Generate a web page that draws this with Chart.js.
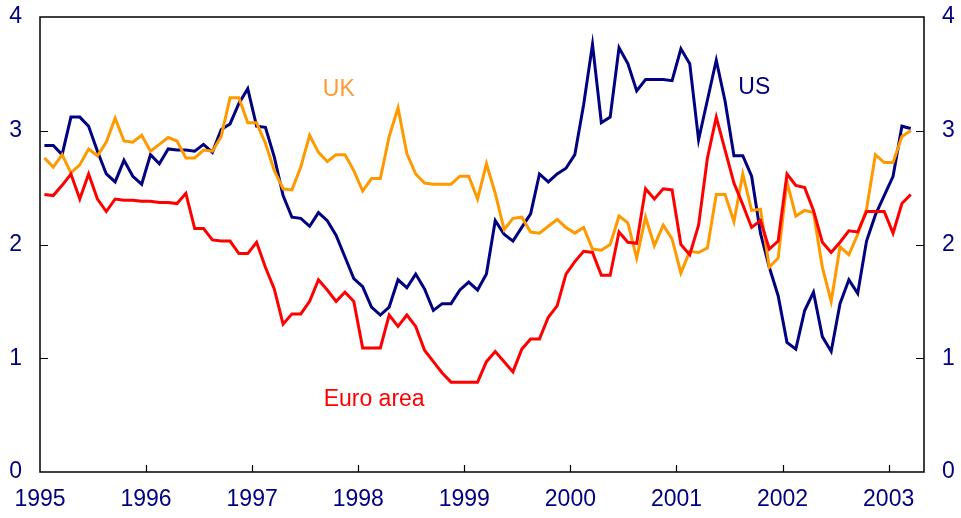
<!DOCTYPE html>
<html>
<head>
<meta charset="utf-8">
<script src="https://cdn.jsdelivr.net/npm/chart.js@4.4.1/dist/chart.umd.min.js"></script>
<style>
  html, body { margin: 0; padding: 0; background: #ffffff; }
  #wrap { width: 961px; height: 518px; }
</style>
</head>
<body>
<div id="wrap"><canvas id="c" width="961" height="518"></canvas></div>
<script>
// ---- Data (monthly, Jan 1995 – Mar 2003) ----
const startYear = 1995;
const yearTicks = ['1995','1996','1997','1998','1999','2000','2001','2002','2003'];

const usValues = [
  2.87,2.87,2.79,3.12,3.12,3.04,2.82,2.62,2.55,2.74,2.60,2.53,
  2.79,2.71,2.84,2.83,2.83,2.82,2.88,2.81,3.01,3.06,3.24,3.37,
  3.04,3.03,2.77,2.43,2.24,2.23,2.16,2.28,2.21,2.08,1.89,1.70,
  1.63,1.45,1.38,1.45,1.69,1.62,1.74,1.61,1.42,1.48,1.48,1.60,
  1.67,1.60,1.74,2.21,2.09,2.03,2.15,2.27,2.62,2.55,2.62,2.67,
  2.79,3.23,3.76,3.07,3.12,3.73,3.59,3.35,3.45,3.45,3.45,3.44,
  3.72,3.59,2.92,3.27,3.62,3.26,2.78,2.78,2.60,2.10,1.80,1.55,
  1.14,1.08,1.42,1.58,1.19,1.06,1.48,1.69,1.57,2.03,2.26,2.43,
  2.60,3.04,3.02
];

const ukValues = [
  2.76,2.68,2.79,2.63,2.70,2.84,2.78,2.90,3.11,2.91,2.90,2.96,
  2.82,2.88,2.94,2.91,2.76,2.76,2.83,2.82,2.95,3.29,3.29,3.07,
  3.07,2.89,2.65,2.49,2.48,2.68,2.96,2.81,2.73,2.79,2.79,2.65,
  2.47,2.58,2.58,2.95,3.20,2.80,2.62,2.54,2.53,2.53,2.53,2.60,
  2.60,2.40,2.71,2.45,2.13,2.23,2.24,2.11,2.10,2.16,2.22,2.15,
  2.10,2.15,1.96,1.95,2.00,2.25,2.19,1.88,2.24,1.99,2.17,2.05,
  1.75,1.94,1.93,1.97,2.44,2.44,2.20,2.62,2.30,2.31,1.80,1.88,
  2.55,2.25,2.30,2.28,1.80,1.50,1.98,1.91,2.09,2.31,2.79,2.72,
  2.72,2.95,3.00
];

const euroValues = [
  2.44,2.43,2.52,2.62,2.40,2.62,2.40,2.29,2.40,2.39,2.39,2.38,
  2.38,2.37,2.37,2.36,2.45,2.14,2.14,2.04,2.03,2.03,1.92,1.92,
  2.02,1.80,1.61,1.30,1.39,1.39,1.50,1.69,1.60,1.50,1.58,1.50,
  1.09,1.09,1.09,1.38,1.28,1.38,1.28,1.07,0.97,0.87,0.79,0.79,
  0.79,0.79,0.97,1.06,0.97,0.88,1.08,1.17,1.17,1.36,1.46,1.74,
  1.85,1.94,1.93,1.73,1.73,2.11,2.02,2.01,2.49,2.40,2.49,2.48,
  2.00,1.91,2.17,2.76,3.12,2.83,2.54,2.35,2.15,2.21,1.96,2.03,
  2.62,2.52,2.50,2.30,2.02,1.93,2.02,2.12,2.11,2.29,2.29,2.29,
  2.10,2.36,2.44
];

// month index (plotted at mid-month) for each observation
const monthIndex = usValues.map((_, i) => i + 0.5);
const toPoints = arr => arr.map((v, i) => ({ x: monthIndex[i], y: v }));

const NAVY = '#000080';
const ORANGE = '#FF9900';
const RED = '#FF0000';
const FONT = "'Liberation Sans', Arial, sans-serif";

// Series labels placed in data coordinates
const seriesLabels = [
  { text: 'UK', x: 33.8, y: 3.36, color: '#FF9933' },
  { text: 'US', x: 80.8, y: 3.38, color: NAVY },
  { text: 'Euro area', x: 37.8, y: 0.64, color: RED }
];

const framePlugin = {
  id: 'frame',
  afterDraw(chart) {
    const ctx = chart.ctx;
    const a = chart.chartArea;
    const xs = chart.scales.x, ys = chart.scales.y;
    ctx.save();
    ctx.strokeStyle = '#000000';
    ctx.lineWidth = 1.5;
    ctx.strokeRect(a.left, a.top, a.right - a.left, a.bottom - a.top);
    ctx.beginPath();
    [1, 2, 3].forEach(v => {
      const py = Math.round(ys.getPixelForValue(v)) + 0.5;
      ctx.moveTo(a.left, py); ctx.lineTo(a.left + 8, py);
      ctx.moveTo(a.right, py); ctx.lineTo(a.right - 8, py);
    });
    for (let k = 1; k < yearTicks.length; k++) {
      const px = Math.round(xs.getPixelForValue(k * 12)) + 0.5;
      ctx.moveTo(px, a.bottom); ctx.lineTo(px, a.bottom - 7);
    }
    ctx.lineWidth = 1.2;
    ctx.stroke();
    // series labels
    ctx.font = '23px ' + FONT;
    ctx.textAlign = 'center';
    ctx.textBaseline = 'middle';
    seriesLabels.forEach(l => {
      ctx.fillStyle = l.color;
      ctx.fillText(l.text, xs.getPixelForValue(l.x), ys.getPixelForValue(l.y));
    });
    ctx.restore();
  }
};

const ds = (label, arr, color) => ({
  label, data: toPoints(arr), borderColor: color, backgroundColor: color,
  borderWidth: 3, pointRadius: 0, tension: 0, yAxisID: 'y'
});

const noPad = s => { s.paddingTop = 0; s.paddingBottom = 0; s.paddingLeft = 0; s.paddingRight = 0; };

new Chart(document.getElementById('c'), {
  type: 'line',
  data: {
    datasets: [
      ds('Euro area', euroValues, RED),
      ds('UK', ukValues, ORANGE),
      ds('US', usValues, NAVY)
    ]
  },
  options: {
    responsive: false,
    animation: false,
    layout: { padding: { top: 17, left: 0, right: 0, bottom: 0 } },
    plugins: { legend: { display: false }, tooltip: { enabled: false } },
    scales: {
      x: {
        type: 'linear', min: 0, max: 100,
        afterFit: s => { s.height = 46; noPad(s); },
        afterBuildTicks: s => { s.ticks = yearTicks.map((t, k) => ({ value: k * 12 })); },
        grid: { display: false, drawTicks: false },
        border: { display: false },
        ticks: {
          autoSkip: false, maxRotation: 0, padding: 14,
          color: NAVY, font: { family: FONT, size: 23 },
          callback: (v) => yearTicks[Math.round(v / 12)]
        }
      },
      y: {
        position: 'left', min: 0, max: 4,
        afterFit: s => { s.width = 40; noPad(s); },
        grid: { display: false, drawTicks: false },
        border: { display: false },
        ticks: { stepSize: 1, padding: 18, color: NAVY, font: { family: FONT, size: 23 } }
      },
      y2: {
        position: 'right', min: 0, max: 4,
        afterFit: s => { s.width = 37; noPad(s); },
        grid: { display: false, drawTicks: false },
        border: { display: false },
        ticks: { stepSize: 1, padding: 18, color: NAVY, font: { family: FONT, size: 23 } }
      }
    }
  },
  plugins: [framePlugin]
});
</script>
</body>
</html>
